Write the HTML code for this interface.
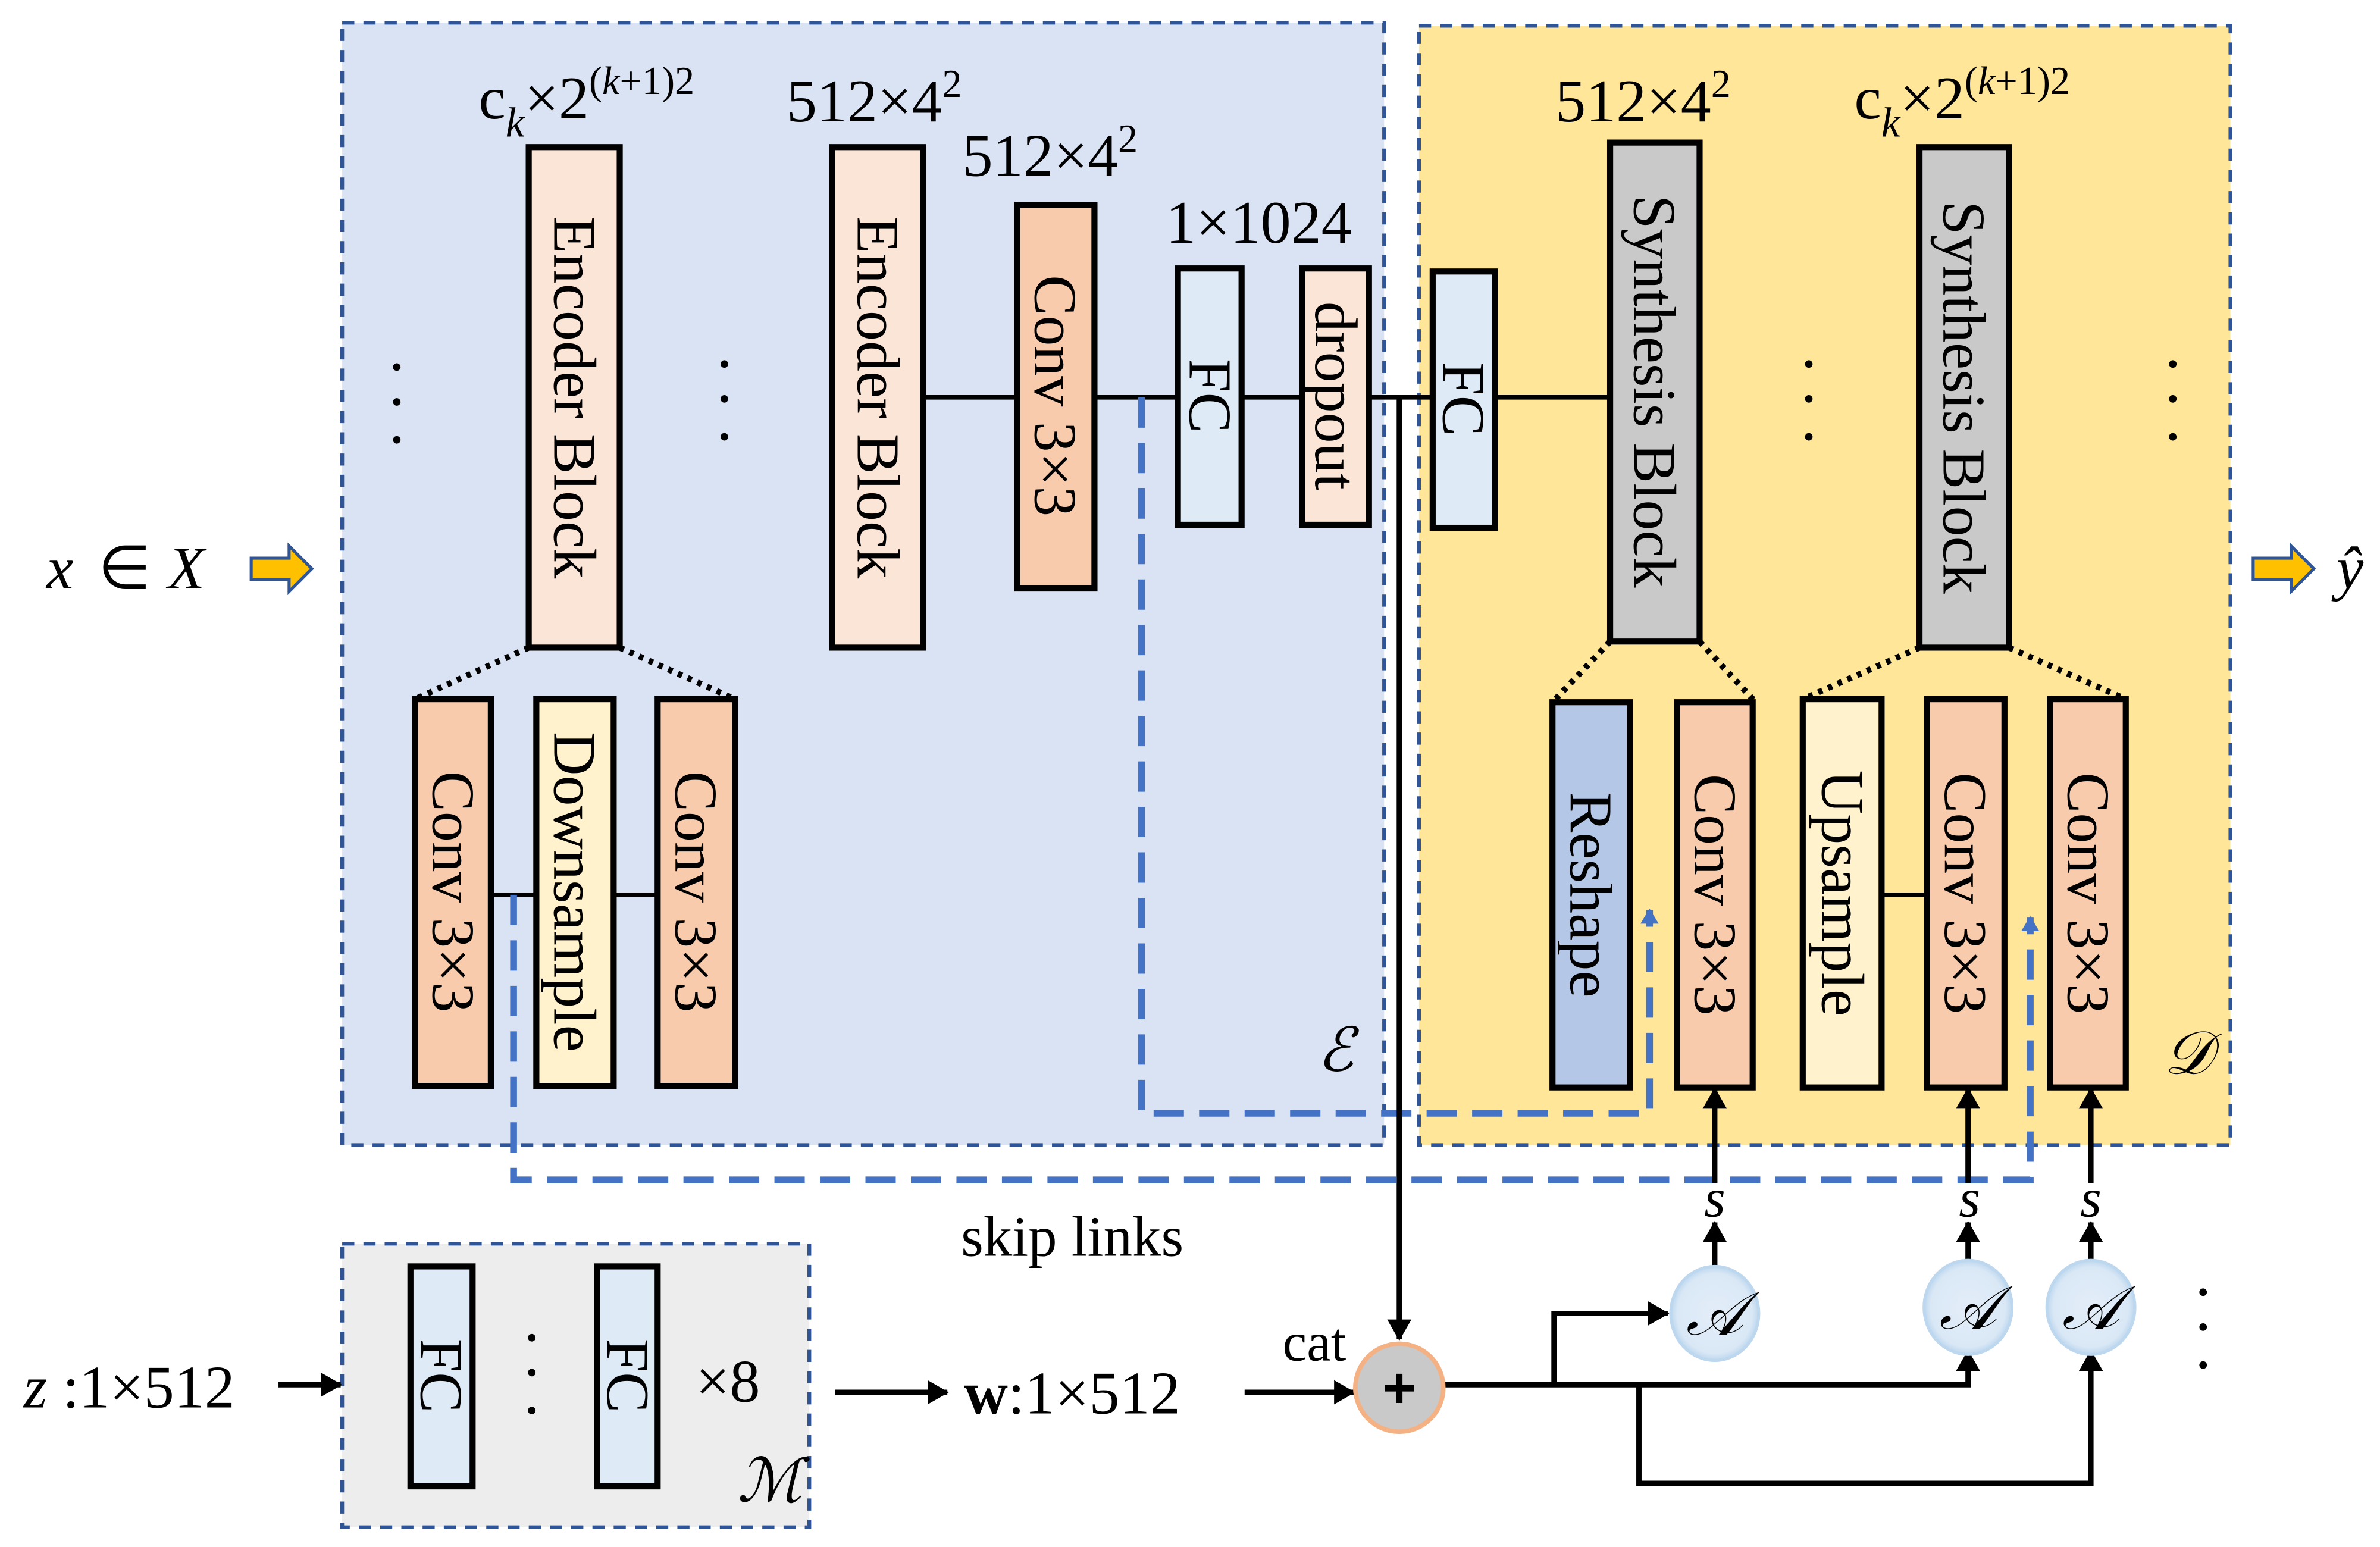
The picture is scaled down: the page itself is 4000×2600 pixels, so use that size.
<!DOCTYPE html>
<html><head><meta charset="utf-8"><style>html,body{margin:0;padding:0;background:#fff}svg{display:block}text{font-family:"Liberation Serif",serif}</style></head>
<body>
<svg width="4000" height="2600" viewBox="0 0 1568 1020" xmlns="http://www.w3.org/2000/svg" font-family="'Liberation Serif', serif">
<defs>
<marker id="ah" markerWidth="10" markerHeight="12" refX="9" refY="6" orient="auto" markerUnits="userSpaceOnUse" viewBox="0 0 10 12"><path d="M0,0 L10,6 L0,12 z" fill="#000"/></marker>
<marker id="ab" markerWidth="14" markerHeight="16" refX="13" refY="8" orient="auto" markerUnits="userSpaceOnUse" viewBox="0 0 14 16"><path d="M0,0 L14,8 L0,16 z" fill="#000"/></marker>
<marker id="abl" markerWidth="10" markerHeight="12" refX="9" refY="6" orient="auto" markerUnits="userSpaceOnUse" viewBox="0 0 10 12"><path d="M0,0 L10,6 L0,12 z" fill="#4472c4"/></marker>
<radialGradient id="ga" cx="50%" cy="50%" r="50%"><stop offset="0" stop-color="#e3edf8"/><stop offset="0.85" stop-color="#dae8f6"/><stop offset="1" stop-color="#bdd7ee"/></radialGradient>
</defs>
<rect x="225" y="15" width="687" height="740" fill="#dae3f3" stroke="#2f5597" stroke-width="2.5" stroke-dasharray="8,6"/>
<rect x="935" y="17" width="535" height="738" fill="#ffe699" stroke="#2f5597" stroke-width="2.5" stroke-dasharray="8,6"/>
<rect x="225" y="820" width="308" height="187" fill="#ededed" stroke="#2f5597" stroke-width="2.5" stroke-dasharray="8,6"/>

<g stroke="#000" stroke-width="3">
<line x1="608" y1="262" x2="670" y2="262"/>
<line x1="721" y1="262" x2="776" y2="262"/>
<line x1="818" y1="262" x2="858" y2="262"/>
<line x1="902" y1="262" x2="944" y2="262"/>
<line x1="985" y1="262" x2="1061" y2="262"/>
<line x1="323" y1="590" x2="353" y2="590"/>
<line x1="404" y1="590" x2="433" y2="590"/>
<line x1="1240" y1="590" x2="1270" y2="590"/>
</g>
<g stroke="#000" stroke-width="4" stroke-dasharray="3,4">
<line x1="348" y1="427" x2="273" y2="461"/>
<line x1="408" y1="427" x2="484" y2="461"/>
<line x1="1061" y1="423" x2="1023" y2="463"/>
<line x1="1120" y1="423" x2="1157" y2="463"/>
<line x1="1265" y1="427" x2="1188" y2="461"/>
<line x1="1324" y1="427" x2="1401" y2="461"/>
</g>

<g stroke="#000" stroke-width="4">
<rect x="348" y="97" width="60" height="330" fill="#fbe5d6"/>
<rect x="548" y="97" width="60" height="330" fill="#fbe5d6"/>
<rect x="670" y="135" width="51" height="253" fill="#f8cbad"/>
<rect x="776" y="177" width="42" height="169" fill="#deebf7"/>
<rect x="858" y="177" width="44" height="169" fill="#fbe5d6"/>
<rect x="944" y="179" width="41" height="169" fill="#deebf7"/>
<rect x="1061" y="94" width="59" height="329" fill="#c9c9c9"/>
<rect x="1265" y="97" width="59" height="330" fill="#c9c9c9"/>
<rect x="273" y="461" width="50" height="255" fill="#f8cbad"/>
<rect x="353" y="461" width="51" height="255" fill="#fff2cc"/>
<rect x="433" y="461" width="51" height="255" fill="#f8cbad"/>
<rect x="1023" y="463" width="51" height="254" fill="#b4c7e7"/>
<rect x="1105" y="463" width="50" height="254" fill="#f8cbad"/>
<rect x="1188" y="461" width="52" height="256" fill="#fff2cc"/>
<rect x="1270" y="461" width="51" height="256" fill="#f8cbad"/>
<rect x="1351" y="461" width="50" height="256" fill="#f8cbad"/>
<rect x="270" y="835" width="41" height="145" fill="#deebf7"/>
<rect x="393" y="835" width="40" height="145" fill="#deebf7"/>
</g>

<g font-size="40" fill="#000" text-anchor="middle" dominant-baseline="central">
<text transform="translate(378,262) rotate(90)">Encoder Block</text>
<text transform="translate(578,262) rotate(90)">Encoder Block</text>
<text transform="translate(695,261) rotate(90)">Conv 3×3</text>
<text transform="translate(797,261) rotate(90)">FC</text>
<text transform="translate(880,261) rotate(90)">dropout</text>
<text transform="translate(964,263) rotate(90)">FC</text>
<text transform="translate(1090,258) rotate(90)">Synthesis Block</text>
<text transform="translate(1294,262) rotate(90)">Synthesis Block</text>
<text transform="translate(298,588) rotate(90)">Conv 3×3</text>
<text transform="translate(378,588) rotate(90)">Downsample</text>
<text transform="translate(458,588) rotate(90)">Conv 3×3</text>
<text transform="translate(1048,590) rotate(90)">Reshape</text>
<text transform="translate(1130,590) rotate(90)">Conv 3×3</text>
<text transform="translate(1214,589) rotate(90)">Upsample</text>
<text transform="translate(1295,589) rotate(90)">Conv 3×3</text>
<text transform="translate(1376,589) rotate(90)">Conv 3×3</text>
<text transform="translate(290,907) rotate(90)">FC</text>
<text transform="translate(413,907) rotate(90)">FC</text>
</g>

<g fill="none" stroke="#4472c4" stroke-width="4.5" stroke-dasharray="20,10">
<path d="M338,590 V778 H1338 V605" marker-end="url(#abl)"/>
<path d="M752,262 V734 H1087 V600" marker-end="url(#abl)"/>
</g>

<g stroke="#000" stroke-width="3.5" fill="none">
<line x1="922" y1="262" x2="922" y2="883" marker-end="url(#ab)"/>
<path d="M952,913 H1297 V891" marker-end="url(#ab)"/>
<path d="M1024,913 V866 H1099" marker-end="url(#ab)"/>
<path d="M1080,913 V978 H1378 V891" marker-end="url(#ab)"/>
<line x1="1130" y1="835" x2="1130" y2="806" marker-end="url(#ab)"/>
<line x1="1297" y1="832" x2="1297" y2="806" marker-end="url(#ab)"/>
<line x1="1378" y1="832" x2="1378" y2="806" marker-end="url(#ab)"/>
<line x1="1130" y1="780" x2="1130" y2="718" marker-end="url(#ab)"/>
<line x1="1297" y1="780" x2="1297" y2="718" marker-end="url(#ab)"/>
<line x1="1378" y1="780" x2="1378" y2="718" marker-end="url(#ab)"/>
<line x1="183" y1="913" x2="224" y2="913" marker-end="url(#ab)"/>
<line x1="550" y1="918" x2="624" y2="918" marker-end="url(#ab)"/>
<line x1="820" y1="918" x2="892" y2="918" marker-end="url(#ab)"/>
</g>

<circle cx="922" cy="915" r="29" fill="#c9c9c9" stroke="#f4b183" stroke-width="3"/>
<text x="922" y="928" font-size="38" style="font-family:'Liberation Sans',sans-serif" font-weight="bold" text-anchor="middle">+</text>
<g fill="url(#ga)" stroke="#bdd7ee" stroke-width="2">
<ellipse cx="1130" cy="866" rx="29" ry="31"/>
<ellipse cx="1297" cy="862" rx="29" ry="31"/>
<ellipse cx="1378" cy="862" rx="29" ry="31"/>
</g>
<g font-size="40" font-style="italic" text-anchor="middle">
<text x="1130" y="880">𝒜</text>
<text x="1297" y="876">𝒜</text>
<text x="1378" y="876">𝒜</text>
<text x="1130" y="802" font-size="36">s</text>
<text x="1298" y="802" font-size="36">s</text>
<text x="1378" y="802" font-size="36">s</text>
<text x="880" y="706">ℰ</text>
<text x="1442" y="708">𝒟</text>
<text x="507" y="990">ℳ</text>
</g>

<g fill="#ffc000" stroke="#2f5597" stroke-width="2">
<path d="M165,368 H190 V360 L205,375 L190,390 V382 H165 z"/>
<path d="M1485,368 H1510 V360 L1525,375 L1510,390 V382 H1485 z"/>
</g>

<g font-size="40" fill="#000">
<text x="30" y="388" font-style="italic">x</text>
<text x="64" y="388">∈</text>
<text x="110" y="388" font-style="italic">X</text>
<text x="1540" y="388" font-style="italic">ŷ</text>
<text x="15" y="928"><tspan font-style="italic">z</tspan> :1×512</text>
<text x="458" y="924">×8</text>
<text x="635" y="932"><tspan font-weight="bold">w</tspan>:1×512</text>
<text x="845" y="897" font-size="36">cat</text>
<text x="633" y="828" font-size="38">skip links</text>
<text x="315" y="78">c<tspan font-size="28" font-style="italic" dy="12">k</tspan><tspan dy="-12">×2</tspan><tspan font-size="26" dy="-16">(<tspan font-style="italic">k</tspan>+1)2</tspan></text>
<text x="1222" y="78">c<tspan font-size="28" font-style="italic" dy="12">k</tspan><tspan dy="-12">×2</tspan><tspan font-size="26" dy="-16">(<tspan font-style="italic">k</tspan>+1)2</tspan></text>
<text x="518" y="80">512×4<tspan font-size="26" dy="-16">2</tspan></text>
<text x="634" y="116">512×4<tspan font-size="26" dy="-16">2</tspan></text>
<text x="768" y="160">1×1024</text>
<text x="1025" y="80">512×4<tspan font-size="26" dy="-16">2</tspan></text>
</g>

<g fill="#000">
<circle cx="261" cy="242" r="2.5"/><circle cx="261" cy="265" r="2.5"/><circle cx="261" cy="290" r="2.5"/>
<circle cx="477" cy="240" r="2.5"/><circle cx="477" cy="263" r="2.5"/><circle cx="477" cy="288" r="2.5"/>
<circle cx="1192" cy="240" r="2.5"/><circle cx="1192" cy="263" r="2.5"/><circle cx="1192" cy="288" r="2.5"/>
<circle cx="1432" cy="240" r="2.5"/><circle cx="1432" cy="263" r="2.5"/><circle cx="1432" cy="288" r="2.5"/>
<circle cx="350" cy="882" r="2.5"/><circle cx="350" cy="905" r="2.5"/><circle cx="350" cy="930" r="2.5"/>
<circle cx="1452" cy="852" r="2.5"/><circle cx="1452" cy="875" r="2.5"/><circle cx="1452" cy="900" r="2.5"/>
</g>
</svg>
</body></html>
